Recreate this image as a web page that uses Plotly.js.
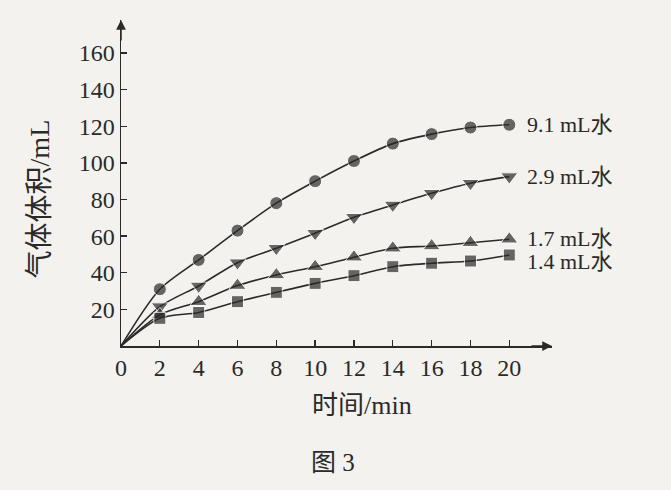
<!DOCTYPE html>
<html><head><meta charset="utf-8">
<script src="https://cdn.plot.ly/plotly-3.0.1.min.js"></script>
<style>html,body{margin:0;padding:0;background:#f3f2ee;}</style>
</head><body>
<div id="chart" style="width:671px;height:490px;"></div>
<script>
const times = [0, 2, 4, 6, 8, 10, 12, 14, 16, 18, 20];
const vol91 = [0, 31, 47, 63, 78, 90, 101, 110.5, 115.7, 119.3, 120.8];
const vol29 = [0, 21.5, 32.8, 45.5, 53.4, 61.6, 70.3, 77, 83.4, 88.9, 92.5];
const vol17 = [0, 17, 24.2, 33, 38.8, 43.3, 48.5, 53.4, 54.6, 56.4, 58.3];
const vol14 = [0, 15.1, 18.3, 24.2, 29.3, 34.2, 38.4, 43.3, 45.2, 46.4, 49.7];
const seriesNames = ['9.1 mL水', '2.9 mL水', '1.7 mL水', '1.4 mL水'];
const xTicks = [0, 2, 4, 6, 8, 10, 12, 14, 16, 18, 20];
const yTicks = [20, 40, 60, 80, 100, 120, 140, 160];

const serif = 'Liberation Serif, Times New Roman, Noto Sans CJK SC, serif';
const ink = '#2a2a2a';
const data = [vol91, vol29, vol17, vol14];
const symbols = ['circle', 'triangle-down', 'triangle-up', 'square'];
const markerSize = [13, 15, 15, 12];

const traces = data.map((ys, k) => ({
  x: times, y: ys, type: 'scatter', mode: 'lines+markers',
  line: {shape: 'spline', smoothing: 0.8, color: ink, width: 1.6},
  marker: {symbol: symbols[k], size: times.map((t, i) => i === 0 ? 0 : markerSize[k]), color: ink},
  name: seriesNames[k], showlegend: false, hoverinfo: 'skip'
}));

const labelShift = [0, 0, 1, -7];
const annotations = data.map((ys, k) => ({
  x: times[times.length - 1], y: ys[ys.length - 1], xref: 'x', yref: 'y',
  text: seriesNames[k], showarrow: false, xanchor: 'left', yanchor: 'middle',
  xshift: 16, yshift: labelShift[k],
  font: {family: serif, size: 22, color: ink}
}));
annotations.push(
  {x: 22.2, y: 0, xref: 'x', yref: 'y', ax: -22, ay: 0, text: '', showarrow: true,
   arrowhead: 2, arrowsize: 1.3, arrowwidth: 1.5, arrowcolor: ink},
  {x: 0, y: 178, xref: 'x', yref: 'y', ax: 0, ay: 22, text: '', showarrow: true,
   arrowhead: 2, arrowsize: 1.3, arrowwidth: 1.5, arrowcolor: ink},
  {x: 0.56, y: -0.184, xref: 'paper', yref: 'paper', text: '时间/min', showarrow: false,
   xanchor: 'center', yanchor: 'middle', font: {family: serif, size: 26, color: ink}},
  {x: -0.19, y: 0.45, xref: 'paper', yref: 'paper', text: '气体体积/mL', showarrow: false,
   textangle: -90, xanchor: 'center', yanchor: 'middle', font: {family: serif, size: 28, color: ink}},
  {x: 0.492, y: -0.356, xref: 'paper', yref: 'paper', text: '图 3', showarrow: false,
   xanchor: 'center', yanchor: 'middle', font: {family: serif, size: 25, color: ink}}
);

const layout = {
  width: 671, height: 490,
  margin: {l: 121, r: 119, t: 20, b: 144, pad: 0},
  paper_bgcolor: '#f3f2ee', plot_bgcolor: 'rgba(0,0,0,0)',
  showlegend: false,
  xaxis: {range: [0, 22.2], tickvals: xTicks, ticktext: xTicks.map(String),
    showgrid: false, zeroline: false, showline: true, linecolor: ink, linewidth: 1.5,
    ticks: 'inside', ticklen: 6, tickcolor: ink, tickwidth: 1.3,
    tickfont: {family: serif, size: 24, color: ink}},
  yaxis: {range: [0, 178], tickvals: yTicks, ticktext: yTicks.map(String),
    showgrid: false, zeroline: false, showline: true, linecolor: ink, linewidth: 1.5,
    ticks: 'inside', ticklen: 6, tickcolor: ink, tickwidth: 1.3,
    tickfont: {family: serif, size: 24, color: ink}},
  annotations: annotations
};
Plotly.newPlot('chart', traces, layout, {displayModeBar: false, staticPlot: true});
</script>
</body></html>
